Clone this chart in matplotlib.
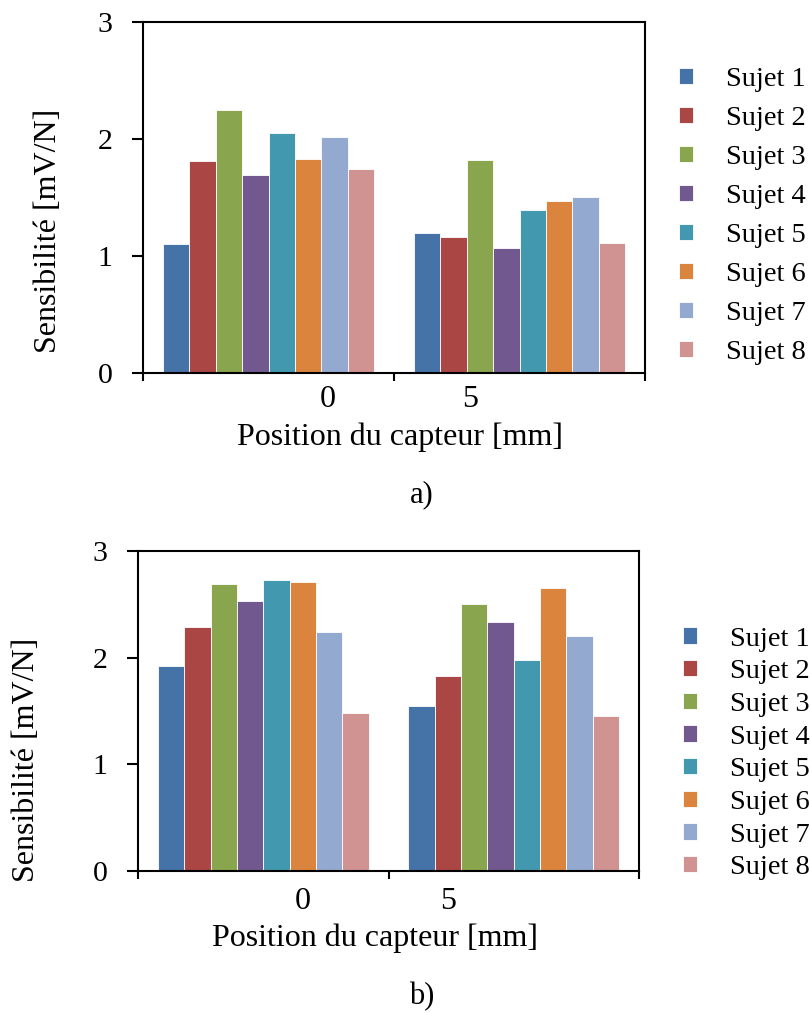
import matplotlib
matplotlib.use("Agg")
import matplotlib.pyplot as plt
import numpy as np

plt.rcParams["font.family"] = ["Liberation Serif", "DejaVu Serif"]

# ---- data ------------------------------------------------------------------
SUBJECTS = [f"Sujet {i}" for i in range(1, 9)]
POSITIONS = ["0", "5"]
COLORS = ["#4572A7", "#AA4643", "#89A54E", "#71588F",
          "#4198AF", "#DB843D", "#93A9CF", "#D19392"]

# a) sensitivity [mV/N] per subject at 0 mm and 5 mm
sens_a_0mm = [1.10, 1.81, 2.25, 1.69, 2.05, 1.83, 2.02, 1.74]
sens_a_5mm = [1.20, 1.16, 1.82, 1.07, 1.39, 1.47, 1.50, 1.11]
# b)
sens_b_0mm = [1.92, 2.29, 2.69, 2.53, 2.73, 2.71, 2.24, 1.48]
sens_b_5mm = [1.55, 1.83, 2.50, 2.33, 1.98, 2.65, 2.20, 1.45]

Y_TICKS = [0, 1, 2, 3]


def panel(ax, v0, v5, lab_x, lab_pad, ylab_xy, xlab_xy):
    w = 1 / 9.5
    centers = np.arange(len(POSITIONS)) + 0.5
    for i, name in enumerate(SUBJECTS):
        ax.bar(centers + (i - 3.5) * w, [v0[i], v5[i]], width=w,
               color=COLORS[i], edgecolor="white", linewidth=0.6, label=name)
    ax.set_xlim(0, len(POSITIONS))
    ax.set_ylim(0, 3)
    ax.set_yticks(Y_TICKS)
    ax.set_xticks(np.arange(len(POSITIONS) + 1))
    ax.set_xticklabels([])
    # category labels sit off-centre in the original
    ax.set_xticks(lab_x, minor=True)
    ax.set_xticklabels(POSITIONS, minor=True)
    ax.tick_params(axis="x", which="minor", length=0, pad=lab_pad, labelsize=23)
    ax.tick_params(axis="x", which="major", direction="out", length=6, width=1.5)
    ax.tick_params(axis="y", direction="out", length=8, width=1.5, pad=14,
                   labelsize=21.5)
    for s in ax.spines.values():
        s.set_linewidth(1.5)
    ax.set_ylabel("Sensibilité [mV/N]", fontsize=23)
    ax.yaxis.set_label_coords(*ylab_xy)
    ax.yaxis.label.set_va("center")
    ax.set_xlabel("Position du capteur [mm]", fontsize=23)
    ax.xaxis.set_label_coords(*xlab_xy)
    ax.xaxis.label.set_va("center")


fig = plt.figure(figsize=(8.1, 10.13), dpi=100)
axA = fig.add_axes([143 / 810, 1 - 373 / 1013, 502 / 810, 351 / 1013])
axB = fig.add_axes([138 / 810, 1 - 871 / 1013, 501 / 810, 320 / 1013])

panel(axA, sens_a_0mm, sens_a_5mm, [0.738, 1.303], 8.6, (-0.189, 0.405), (0.512, -0.182))
panel(axB, sens_b_0mm, sens_b_5mm, [0.659, 1.237], 11.5, (-0.222, 0.347), (0.473, -0.209))

axA.legend(loc="center left", bbox_to_anchor=(679 / 810, 1 - 216 / 1013),
           bbox_transform=fig.transFigure, frameon=False, fontsize=20.5,
           handlelength=0.5, handleheight=0.5, handletextpad=1.15,
           labelspacing=0.49, borderpad=0, borderaxespad=0)
axB.legend(loc="center left", bbox_to_anchor=(683 / 810, 1 - 753.5 / 1013),
           bbox_transform=fig.transFigure, frameon=False, fontsize=20.5,
           handlelength=0.5, handleheight=0.5, handletextpad=1.15,
           labelspacing=0.27, borderpad=0, borderaxespad=0)

fig.text(422 / 810, 1 - 495 / 1013, "a)", ha="center", va="center", fontsize=22)
fig.text(422 / 810, 1 - 997 / 1013, "b)", ha="center", va="center", fontsize=22)

fig.savefig("out.png", dpi=100)
